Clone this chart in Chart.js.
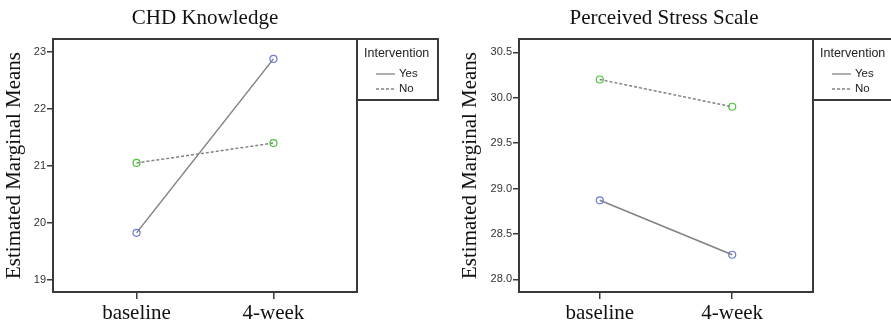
<!DOCTYPE html>
<html>
<head>
<meta charset="utf-8">
<script src="https://cdn.jsdelivr.net/npm/chart.js@4"></script>
<style>
  body { margin: 0; background: #fff; }
  .wrap { position: absolute; top: 0; width: 445px; height: 327px; }
  #left { left: 0; }
  #right { left: 446px; }
</style>
</head>
<body>
<div class="wrap" id="left"><canvas id="chd"></canvas></div>
<div class="wrap" id="right"><canvas id="pss"></canvas></div>
<script>
const timePoints = ["baseline", "4-week"];
const groups = ["Yes", "No"];

const chdYes = [19.82, 22.88];
const chdNo = [21.05, 21.40];
const chdTicks = [19, 20, 21, 22, 23];

const pssYes = [28.87, 28.27];
const pssNo = [30.20, 29.90];
const pssTicks = [28.0, 28.5, 29.0, 29.5, 30.0, 30.5];

const lineGray = "#828282";
const frameColor = "#3a3a3a";
const yesPoint = "#6f78d8";
const noPoint = "#4cc43c";
const serif = "'Liberation Serif', 'Times New Roman', serif";

// draws the title, the box round the plot and the SPSS-like legend box
const framePlugin = {
  id: "frame",
  afterDraw(chart, args, opts) {
    const { ctx, chartArea: a } = chart;
    ctx.save();
    ctx.strokeStyle = frameColor;
    ctx.lineWidth = 2;
    ctx.strokeRect(a.left, a.top, a.right - a.left, a.bottom - a.top);

    // legend box
    ctx.strokeRect(a.right, a.top, opts.legendRight - a.right, 61);

    ctx.fillStyle = "#222";
    ctx.font = "12.5px 'Liberation Sans', Arial, sans-serif";
    ctx.textBaseline = "middle";
    ctx.textAlign = "left";
    ctx.fillText("Intervention", a.right + 7, a.top + 15);
    const lx = a.right + 19;
    ctx.lineWidth = 1.3;
    ctx.strokeStyle = lineGray;
    ctx.beginPath();
    ctx.moveTo(lx, a.top + 35);
    ctx.lineTo(lx + 19, a.top + 35);
    ctx.stroke();
    ctx.setLineDash([3, 2]);
    ctx.beginPath();
    ctx.moveTo(lx, a.top + 50);
    ctx.lineTo(lx + 19, a.top + 50);
    ctx.stroke();
    ctx.setLineDash([]);
    ctx.font = "11.5px 'Liberation Sans', Arial, sans-serif";
    ctx.fillText(groups[0], lx + 23, a.top + 35);
    ctx.fillText(groups[1], lx + 23, a.top + 50);

    // chart title
    ctx.font = "21px " + serif;
    ctx.fillStyle = "#111";
    ctx.textAlign = "center";
    ctx.fillText(opts.title, opts.titleX, 18);
    ctx.restore();
  }
};

function makeChart(canvas, cfg) {
  new Chart(canvas, {
    type: "line",
    data: {
      datasets: [
        {
          label: groups[0],
          data: cfg.yes.map((v, i) => ({ x: i, y: v })),
          borderColor: lineGray,
          borderWidth: 1.5,
          pointBorderColor: yesPoint,
          pointBackgroundColor: "rgba(0,0,0,0)",
          pointRadius: 3.5,
          pointBorderWidth: 1.2,
        },
        {
          label: groups[1],
          data: cfg.no.map((v, i) => ({ x: i, y: v })),
          borderColor: lineGray,
          borderWidth: 1.5,
          borderDash: [3, 2],
          pointBorderColor: noPoint,
          pointBackgroundColor: "rgba(0,0,0,0)",
          pointRadius: 3.5,
          pointBorderWidth: 1.2,
        },
      ],
    },
    options: {
      responsive: false,
      animation: false,
      events: [],
      layout: { padding: { top: 39, right: cfg.padRight, left: 0, bottom: 0 } },
      plugins: {
        legend: { display: false },
        tooltip: { enabled: false },
        frame: { title: cfg.title, titleX: cfg.titleX, legendRight: cfg.legendRight },
      },
      scales: {
        x: {
          type: "linear",
          min: -0.61,
          max: 1.61,
          afterBuildTicks: (s) => { s.ticks = timePoints.map((t, i) => ({ value: i })); },
          afterFit: (s) => { s.height = 35; },
          ticks: {
            callback: (v) => timePoints[v],
            color: "#111",
            font: { family: serif, size: 21 },
            padding: 2,
            maxRotation: 0,
          },
          grid: { drawOnChartArea: false, tickLength: 7, color: frameColor, lineWidth: 1.5 },
          border: { color: frameColor, width: 2 },
        },
        y: {
          min: cfg.yMin,
          max: cfg.yMax,
          afterBuildTicks: (s) => { s.ticks = cfg.ticks.map((v) => ({ value: v })); },
          afterFit: (s) => { s.width = cfg.yWidth; },
          ticks: {
            callback: (v) => v.toFixed(cfg.decimals),
            color: "#333",
            font: { family: "'Liberation Sans', Arial, sans-serif", size: 11 },
            padding: 1,
          },
          grid: { drawOnChartArea: false, tickLength: 6, color: frameColor, lineWidth: 1.5 },
          border: { color: frameColor, width: 2 },
          title: {
            display: true,
            text: "Estimated Marginal Means",
            color: "#111",
            font: { family: serif, size: 21 },
            padding: { top: cfg.yTitlePad, bottom: 0 },
          },
        },
      },
    },
    plugins: [framePlugin],
  });
}

const c1 = document.getElementById("chd");
c1.width = 445; c1.height = 327;
const c2 = document.getElementById("pss");
c2.width = 445; c2.height = 327;

makeChart(c1, {
  yes: chdYes, no: chdNo, ticks: chdTicks, decimals: 0,
  yMin: 18.78, yMax: 23.23, yWidth: 53, padRight: 88,
  title: "CHD Knowledge", titleX: 205, legendRight: 438, yTitlePad: 2,
});
makeChart(c2, {
  yes: pssYes, no: pssNo, ticks: pssTicks, decimals: 1,
  yMin: 27.86, yMax: 30.646, yWidth: 73, padRight: 78,
  title: "Perceived Stress Scale", titleX: 218, legendRight: 460, yTitlePad: 12,
});
</script>
</body>
</html>
